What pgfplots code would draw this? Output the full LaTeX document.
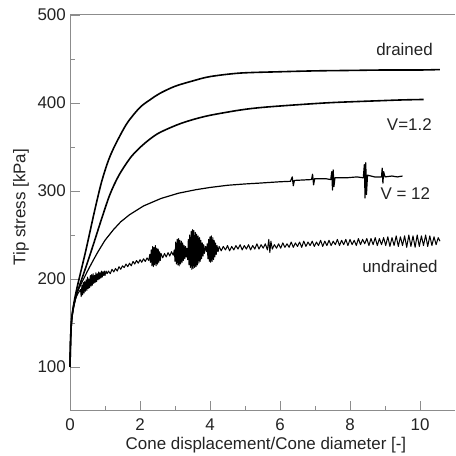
\documentclass[border=0pt]{standalone}
\usepackage{fontspec}
\setmainfont{Liberation Sans}
\usepackage{pgfplots}
\pgfplotsset{compat=1.18}
\definecolor{axgray}{RGB}{140,140,140}
\definecolor{txt}{RGB}{35,35,35}

\begin{document}
\begin{tikzpicture}
\begin{axis}[
    width=385bp, height=396bp, scale only axis,
    xmin=0, xmax=11, ymin=50, ymax=500,
    axis lines*=left,
    axis line style={axgray, line width=1bp},
    xtick={0,2,...,10}, ytick={100,200,...,500},
    minor xtick={1,3,...,9}, minor ytick={150,250,...,450},
    tick align=inside,
    major tick length=10bp, minor tick length=5bp,
    every tick/.style={axgray, line width=0.8bp},
    /pgf/number format/assume math mode=true,
    tick label style={font=\fontsize{17}{20}\selectfont, text=txt},
    label style={font=\fontsize{17}{20}\selectfont, text=txt},
    xticklabel style={anchor=base, yshift=-20bp},
    yticklabel style={anchor=east, inner sep=0pt, xshift=-4bp},
    xlabel={Cone displacement/Cone diameter [-]},
    ylabel={Tip stress [kPa]},
    xlabel style={at={(axis description cs:0.509,-0.096)}, anchor=base},
    ylabel style={at={(axis description cs:-0.127,0.515)}, anchor=center},
    no markers,
    every axis plot/.append style={black, line join=round},
    clip=false,
]

% drained
\addplot[line width=1.6bp, smooth, tension=0.5] coordinates {
    (0,100) (0.02,135) (0.05,155) (0.1,170) (0.2,190) (0.45,232) (0.7,277)
    (0.9,310) (1.1,335) (1.3,353) (1.63,377) (2.0,395) (2.3,404) (2.57,411)
    (3.0,419) (3.5,425) (4.0,430) (4.86,434) (6,435.5) (7,436.5) (8,437)
    (9,437.5) (10,437.5) (10.57,438)
};

% V=1.2
\addplot[line width=1.6bp, smooth, tension=0.5] coordinates {
    (0,100) (0.02,135) (0.05,155) (0.1,168) (0.2,184) (0.45,213) (0.65,237)
    (0.9,268) (1.14,296) (1.4,318) (1.75,339) (2.1,353) (2.5,365)
    (3.05,375) (3.5,381) (4.0,386) (4.86,392) (5.5,395) (6.5,398) (7.5,400.5)
    (8.86,402.6) (9.5,403.5) (10.1,404)
};

% V = 12
\addplot[line width=1.2bp] coordinates {
    (0,100) (0.02,135) (0.05,155) (0.1,168) (0.2,185) (0.3,193) (0.4,201)
    (0.5,209) (0.66,221) (0.8,231) (1.0,244) (1.24,256) (1.45,265) (1.7,273)
    (2.1,283) (2.6,291.5) (3.1,297.5) (3.6,301.5) (4.0,304) (4.5,306.5)
    (5.0,308) (5.43,309) (6.0,310.5) (6.3,311)
    (6.35,316) (6.38,306) (6.41,312) (6.9,313) (6.93,319) (6.96,307) (6.99,314)
    (7.3,314) (7.45,313) (7.48,322) (7.5,301) (7.52,324) (7.54,305) (7.57,315)
    (7.9,315) (8.2,316) (8.38,315) (8.41,330) (8.43,292) (8.45,332) (8.47,296)
    (8.5,318) (8.7,316) (8.9,316) (8.92,326) (8.94,309) (8.96,322) (9.0,316)
    (9.2,317) (9.35,316) (9.5,317)
};

% undrained
\addplot[line width=1bp] coordinates {
    (0,100) (0.02,135) (0.05,155) (0.1,168) (0.15,177) (0.22,183)
    (0.30,188) (0.32,180) (0.34,193) (0.36,182) (0.38,196) (0.40,184) (0.42,197)
    (0.44,186) (0.46,199) (0.48,187) (0.50,202) (0.52,189) (0.54,200) (0.56,190)
    (0.58,204) (0.60,192) (0.62,205) (0.64,193) (0.66,206) (0.68,195) (0.70,204)
    (0.72,196) (0.74,207) (0.76,197) (0.78,206) (0.80,199) (0.82,208) (0.84,200)
    (0.86,207) (0.88,201) (0.90,209) (0.92,202) (0.94,208) (0.96,204) (0.98,209)
    (1.00,204) (1.03,209) (1.06,206)
    (1.10,209) (1.15,206) (1.20,211) (1.25,208) (1.30,212) (1.35,209) (1.40,214)
    (1.45,211) (1.50,215) (1.55,213) (1.60,217) (1.65,214) (1.70,218) (1.75,215)
    (1.80,220) (1.85,217) (1.90,221) (1.95,218) (2.00,222) (2.05,219) (2.10,223)
    (2.15,220) (2.20,224) (2.25,221)
    (2.28,228) (2.30,219) (2.32,233) (2.34,215) (2.36,237) (2.38,214) (2.40,236)
    (2.42,216) (2.44,238) (2.46,215) (2.48,235) (2.50,217) (2.52,234) (2.54,219)
    (2.56,231) (2.58,221) (2.60,229)
    (2.65,224) (2.70,229) (2.75,225) (2.80,230) (2.85,226) (2.90,231) (2.95,227)
    (2.98,233) (3.00,220) (3.02,242) (3.04,217) (3.06,245) (3.08,216) (3.10,246)
    (3.12,215) (3.14,244) (3.16,217) (3.18,243) (3.20,219) (3.22,241) (3.24,221)
    (3.26,238) (3.28,223) (3.30,237) (3.32,225) (3.34,235)
    (3.36,222) (3.38,245) (3.40,216) (3.42,250) (3.44,213) (3.46,254) (3.48,211)
    (3.50,256) (3.52,212) (3.54,255) (3.56,213) (3.58,253) (3.60,214) (3.62,251)
    (3.64,216) (3.66,249) (3.68,218) (3.70,247) (3.72,220) (3.74,244) (3.76,223)
    (3.78,241) (3.80,226) (3.82,239) (3.84,229) (3.87,237) (3.90,231)
    (3.92,240) (3.94,223) (3.96,245) (3.98,220) (4.00,248) (4.02,219) (4.04,249)
    (4.06,220) (4.08,247) (4.10,222) (4.12,244) (4.14,225) (4.16,241) (4.18,228)
    (4.20,238) (4.23,231)
    (4.26,237) (4.32,232) (4.38,237) (4.44,233) (4.50,238) (4.56,232) (4.62,237)
    (4.68,233) (4.74,238) (4.80,234) (4.86,239) (4.92,233) (4.98,238) (5.04,234)
    (5.10,239) (5.16,233) (5.22,238) (5.28,234) (5.34,240) (5.40,234) (5.46,239)
    (5.52,235) (5.58,240) (5.64,233) (5.68,245) (5.71,230) (5.74,243) (5.78,234)
    (5.84,239) (5.90,235) (5.96,240) (6.02,235) (6.08,241) (6.14,236) (6.20,240)
    (6.26,236) (6.32,242) (6.38,236) (6.44,241) (6.50,237) (6.56,242) (6.62,236)
    (6.68,243) (6.74,237) (6.80,242) (6.86,238) (6.92,243) (6.98,237) (7.04,242)
    (7.10,238) (7.16,244) (7.22,237) (7.28,243) (7.34,238) (7.40,244) (7.46,238)
    (7.52,243) (7.58,239) (7.64,245) (7.70,238) (7.76,244) (7.82,239) (7.88,245)
    (7.94,238) (8.00,245) (8.06,239) (8.12,244) (8.18,238) (8.24,246) (8.30,239)
    (8.36,245) (8.42,240) (8.48,246) (8.54,238) (8.60,246) (8.66,239) (8.72,247)
    (8.78,238) (8.84,246) (8.90,239) (8.96,247) (9.02,238) (9.08,248) (9.14,237)
    (9.20,247) (9.26,238) (9.32,249) (9.38,237) (9.44,248) (9.50,238) (9.56,249)
    (9.62,236) (9.68,250) (9.74,237) (9.80,249) (9.86,236) (9.92,250) (9.98,237)
    (10.04,249) (10.10,238) (10.16,250) (10.22,237) (10.28,249) (10.34,238)
    (10.40,248) (10.46,239) (10.52,247) (10.57,243)
};

\draw[axgray, line width=1bp] (rel axis cs:0,1) -- (rel axis cs:1,1);

\begin{scope}[font=\fontsize{17}{20}\selectfont, text=txt]
\node[anchor=base east, inner sep=0pt] at (axis cs:10.37,454.5) {drained};
\node[anchor=base east, inner sep=0pt] at (axis cs:10.34,369) {V=1.2};
\node[anchor=base east, inner sep=0pt] at (axis cs:10.29,290) {V = 12};
\node[anchor=base east, inner sep=0pt] at (axis cs:10.51,207) {undrained};
\end{scope}

\coordinate (SW) at (rel axis cs:0,0);
\coordinate (NE) at (rel axis cs:1,1);
\end{axis}
\pgfresetboundingbox
\path ([xshift=-70bp,yshift=-45bp]SW) rectangle ([yshift=15bp]NE);
\end{tikzpicture}
\end{document}
